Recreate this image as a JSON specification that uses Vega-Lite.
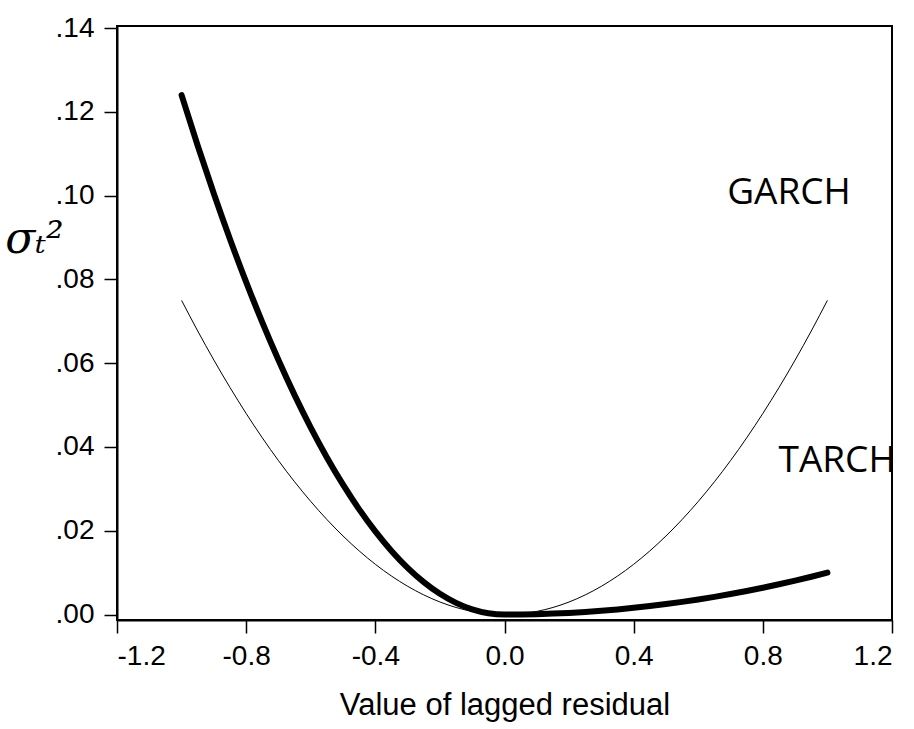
{
  "$schema": "https://vega.github.io/schema/vega-lite/v6.json",
  "width": 775,
  "height": 594,
  "autosize": {"type": "none"},
  "padding": {"left": 117, "top": 26, "right": 22, "bottom": 109},
  "config": {
    "view": {"stroke": "black", "strokeWidth": 2},
    "axis": {
      "grid": false,
      "domainColor": "black",
      "domainWidth": 2,
      "tickColor": "black",
      "tickWidth": 1.5,
      "tickSize": 13,
      "labelColor": "black",
      "labelFont": "Liberation Sans",
      "labelFontSize": 28,
      "titleColor": "black",
      "titleFontWeight": "normal"
    }
  },
  "layer": [
    {
      "data": {"values": [
        {"x": -1.0, "y": 0.075}, {"x": -0.95, "y": 0.06769}, {"x": -0.9, "y": 0.06075}, {"x": -0.85, "y": 0.05419},
        {"x": -0.8, "y": 0.048}, {"x": -0.75, "y": 0.04219}, {"x": -0.7, "y": 0.03675}, {"x": -0.65, "y": 0.03169},
        {"x": -0.6, "y": 0.027}, {"x": -0.55, "y": 0.02269}, {"x": -0.5, "y": 0.01875}, {"x": -0.45, "y": 0.01519},
        {"x": -0.4, "y": 0.012}, {"x": -0.35, "y": 0.00919}, {"x": -0.3, "y": 0.00675}, {"x": -0.25, "y": 0.00469},
        {"x": -0.2, "y": 0.003}, {"x": -0.15, "y": 0.00169}, {"x": -0.1, "y": 0.00075}, {"x": -0.05, "y": 0.00019},
        {"x": 0.0, "y": 0.0},
        {"x": 0.05, "y": 0.00019}, {"x": 0.1, "y": 0.00075}, {"x": 0.15, "y": 0.00169}, {"x": 0.2, "y": 0.003},
        {"x": 0.25, "y": 0.00469}, {"x": 0.3, "y": 0.00675}, {"x": 0.35, "y": 0.00919}, {"x": 0.4, "y": 0.012},
        {"x": 0.45, "y": 0.01519}, {"x": 0.5, "y": 0.01875}, {"x": 0.55, "y": 0.02269}, {"x": 0.6, "y": 0.027},
        {"x": 0.65, "y": 0.03169}, {"x": 0.7, "y": 0.03675}, {"x": 0.75, "y": 0.04219}, {"x": 0.8, "y": 0.048},
        {"x": 0.85, "y": 0.05419}, {"x": 0.9, "y": 0.06075}, {"x": 0.95, "y": 0.06769}, {"x": 1.0, "y": 0.075}
      ]},
      "mark": {"type": "line", "color": "black", "strokeWidth": 1, "interpolate": "monotone"},
      "encoding": {
        "x": {
          "field": "x", "type": "quantitative",
          "scale": {"domain": [-1.2, 1.2], "nice": false, "zero": false},
          "axis": {
            "values": [-1.2, -0.8, -0.4, 0, 0.4, 0.8, 1.2],
            "labelExpr": "replace(format(datum.value, '.1f'), '−', '-')",
            "labelPadding": 9,
            "title": "Value of lagged residual",
            "titleFont": "Liberation Sans",
            "titleFontSize": 31,
            "titlePadding": 20
          }
        },
        "y": {
          "field": "y", "type": "quantitative",
          "scale": {"domain": [-0.0013, 0.1405], "nice": false, "zero": false},
          "axis": {
            "values": [0, 0.02, 0.04, 0.06, 0.08, 0.1, 0.12, 0.14],
            "labelExpr": "replace(format(datum.value, '.2f'), '0.', '.')",
            "labelPadding": 10,
            "title": "σₜ²",
            "titleFont": "DejaVu Serif",
            "titleFontStyle": "italic",
            "titleFontSize": 44,
            "titleAngle": 0,
            "titleAlign": "center",
            "titleBaseline": "middle",
            "titleX": -83,
            "titleY": 213
          }
        }
      }
    },
    {
      "data": {"values": [
        {"x": -1.0, "y": 0.124}, {"x": -0.95, "y": 0.11191}, {"x": -0.9, "y": 0.10044}, {"x": -0.85, "y": 0.08959},
        {"x": -0.8, "y": 0.07936}, {"x": -0.75, "y": 0.06975}, {"x": -0.7, "y": 0.06076}, {"x": -0.65, "y": 0.05239},
        {"x": -0.6, "y": 0.04464}, {"x": -0.55, "y": 0.03751}, {"x": -0.5, "y": 0.031}, {"x": -0.45, "y": 0.02511},
        {"x": -0.4, "y": 0.01984}, {"x": -0.35, "y": 0.01519}, {"x": -0.3, "y": 0.01116}, {"x": -0.25, "y": 0.00775},
        {"x": -0.2, "y": 0.00496}, {"x": -0.15, "y": 0.00279}, {"x": -0.1, "y": 0.00124}, {"x": -0.05, "y": 0.00031},
        {"x": 0.0, "y": 0.0},
        {"x": 0.05, "y": 0.000025}, {"x": 0.1, "y": 0.0001}, {"x": 0.15, "y": 0.000225}, {"x": 0.2, "y": 0.0004},
        {"x": 0.25, "y": 0.000625}, {"x": 0.3, "y": 0.0009}, {"x": 0.35, "y": 0.001225}, {"x": 0.4, "y": 0.0016},
        {"x": 0.45, "y": 0.002025}, {"x": 0.5, "y": 0.0025}, {"x": 0.55, "y": 0.003025}, {"x": 0.6, "y": 0.0036},
        {"x": 0.65, "y": 0.004225}, {"x": 0.7, "y": 0.0049}, {"x": 0.75, "y": 0.005625}, {"x": 0.8, "y": 0.0064},
        {"x": 0.85, "y": 0.007225}, {"x": 0.9, "y": 0.0081}, {"x": 0.95, "y": 0.009025}, {"x": 1.0, "y": 0.01}
      ]},
      "mark": {"type": "line", "color": "black", "strokeWidth": 6, "strokeCap": "round", "interpolate": "monotone"},
      "encoding": {
        "x": {"field": "x", "type": "quantitative"},
        "y": {"field": "y", "type": "quantitative"}
      }
    },
    {
      "data": {"values": [
        {"x": 0.881, "y": 0.1006, "label": "GARCH"},
        {"x": 1.03, "y": 0.0366, "label": "TARCH"}
      ]},
      "mark": {"type": "text", "font": "Open Sans", "fontSize": 37, "color": "black", "align": "center", "baseline": "middle", "clip": false},
      "encoding": {
        "x": {"field": "x", "type": "quantitative"},
        "y": {"field": "y", "type": "quantitative"},
        "text": {"field": "label"}
      }
    }
  ]
}
